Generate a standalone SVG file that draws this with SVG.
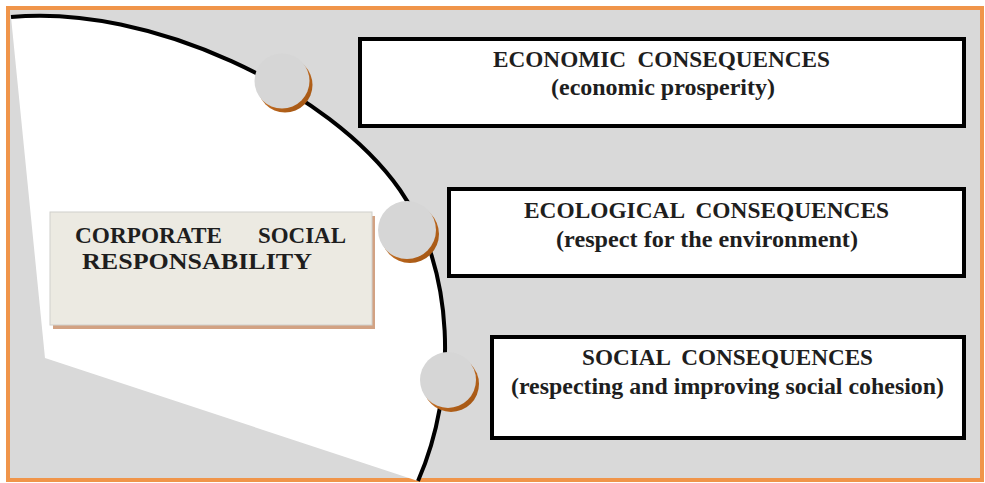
<svg xmlns="http://www.w3.org/2000/svg" width="985" height="483" viewBox="0 0 985 483">
<style>
.t{font-family:"Liberation Serif","Times New Roman",serif;font-weight:bold;font-size:23px;fill:#1e1e1e;text-anchor:start;white-space:pre}
.box{fill:#ffffff;stroke:#000;stroke-width:4}
.dot{fill:#d6d6d6}
.sh{fill:url(#brown)}
</style>
<defs>
<linearGradient id="brown" x1="0" y1="0" x2="1" y2="1">
<stop offset="0" stop-color="#e3a66a"/>
<stop offset="0.6" stop-color="#b9651c"/>
<stop offset="1" stop-color="#9c5212"/>
</linearGradient>
</defs>
<rect x="8" y="8" width="974" height="472" fill="#d9d9d9" stroke="#f0954a" stroke-width="4"/>
<path d="M11,17 C150,4 330,90 400,190 C455,268 458,390 418,481 L45,358 Z" fill="#ffffff"/>
<g id="connectors">
<path d="M11,17 C150,4 330,90 400,190 C455,268 458,390 418,481" fill="none" stroke="#000" stroke-width="4"/>
</g>
<g id="dot1"><circle class="sh" cx="285" cy="85" r="27.5"/><circle class="dot" cx="282" cy="81" r="27.5"/></g>
<g id="dot2"><circle class="sh" cx="410" cy="234" r="29"/><circle class="dot" cx="407" cy="230" r="29"/></g>
<g id="dot3"><circle class="sh" cx="451" cy="384" r="28"/><circle class="dot" cx="448" cy="380" r="28"/></g>
<g id="csr">
<rect x="53" y="216" width="322" height="113" fill="#d2a283"/>
<rect x="50" y="212" width="322" height="113" fill="#eceae2" stroke="#d0d0cc" stroke-width="1"/>
<text class="t" x="75" y="243" textLength="147" lengthAdjust="spacingAndGlyphs">CORPORATE</text>
<text class="t" x="258" y="243" textLength="88" lengthAdjust="spacingAndGlyphs">SOCIAL</text>
<text class="t" x="82" y="269" textLength="230" lengthAdjust="spacingAndGlyphs">RESPONSABILITY</text>
</g>
<g id="economic">
<rect class="box" x="360" y="39" width="604" height="87"/>
<text class="t" x="493" y="67" textLength="337" lengthAdjust="spacingAndGlyphs" xml:space="preserve">ECONOMIC  CONSEQUENCES</text>
<text class="t" x="551" y="95" textLength="224" lengthAdjust="spacingAndGlyphs">(economic prosperity)</text>
</g>
<g id="ecological">
<rect class="box" x="449" y="189" width="515" height="87"/>
<text class="t" x="524" y="218" textLength="365" lengthAdjust="spacingAndGlyphs" xml:space="preserve">ECOLOGICAL  CONSEQUENCES</text>
<text class="t" x="556" y="247" textLength="302" lengthAdjust="spacingAndGlyphs">(respect for the environment)</text>
</g>
<g id="social">
<rect class="box" x="492" y="337" width="472" height="101"/>
<text class="t" x="582" y="365" textLength="291" lengthAdjust="spacingAndGlyphs" xml:space="preserve">SOCIAL  CONSEQUENCES</text>
<text class="t" x="511" y="394" textLength="433" lengthAdjust="spacingAndGlyphs">(respecting and improving social cohesion)</text>
</g>
</svg>
